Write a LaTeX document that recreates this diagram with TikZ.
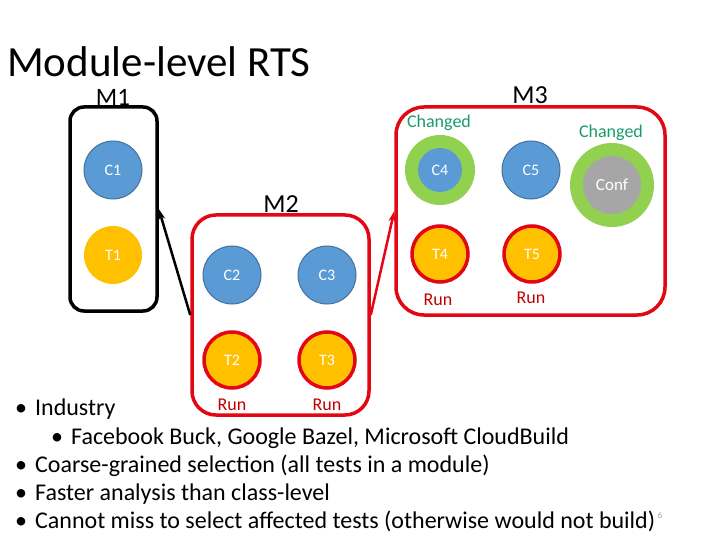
\documentclass[tikz,border=0pt]{standalone}
\usepackage{fontspec}
\setmainfont{Carlito}
\usetikzlibrary{arrows.meta}
\definecolor{cblue}{HTML}{5B9BD5}
\definecolor{cblueb}{HTML}{41719C}
\definecolor{cyel}{HTML}{FFC000}
\definecolor{cred}{HTML}{E30613}
\definecolor{crun}{HTML}{C00000}
\definecolor{cgreen}{HTML}{92D050}
\definecolor{cchg}{HTML}{1A9A6A}
\definecolor{cgray}{HTML}{A6A6A6}
\tikzset{
  modbox/.style={draw, line width=3.5pt, rounded corners=#1, inner sep=0pt},
  cls/.style={circle, fill=cblue, draw=cblueb, line width=1pt, minimum size=58pt, inner sep=0pt, text=white, font=\fontsize{16}{18}\selectfont},
  tst/.style={circle, fill=cyel, minimum size=58pt, inner sep=0pt, text=white, font=\fontsize{16}{18}\selectfont},
  runtst/.style={tst, draw=cred, line width=3.5pt, minimum size=56pt},
  ring/.style={circle, fill=cgreen, inner sep=0pt},
  modlabel/.style={inner sep=0pt, font=\fontsize{26}{28}\selectfont},
  runlabel/.style={text=crun, font=\fontsize{18}{20}\selectfont},
  chglabel/.style={text=cchg, font=\fontsize{18}{20}\selectfont},
  bul/.style={anchor=base west, inner sep=0pt, font=\fontsize{24}{26}\selectfont},
}
\begin{document}
\begin{tikzpicture}[x=1pt,y=-1pt]
\useasboundingbox (0,0) rectangle (720,540);
% title
\node[anchor=base west, inner sep=0pt, font=\fontsize{43}{46}\selectfont] (title) at (7,77) {Module-level RTS};
% module boxes
\node[modbox=14pt, draw=black, minimum width=87pt, minimum height=204pt] (m1) at (113.5,209) {};
\node[modbox=24pt, draw=cred, minimum width=177pt, minimum height=200pt] (m2) at (280.5,315) {};
\node[modbox=28pt, draw=cred, minimum width=269pt, minimum height=208pt] (m3) at (530.5,211) {};
\node[modlabel, font=\fontsize{25}{27}\selectfont] (m1l) at (113,97) {M1};
\node[modlabel] (m2l) at (281,204) {M2};
\node[modlabel] (m3l) at (530,95) {M3};
% M1
\node[cls] (c1) at (113,170) {C1};
\node[tst] (t1) at (113,255) {T1};
% M2
\node[cls] (c2) at (232,275) {C2};
\node[cls] (c3) at (327,275) {C3};
\node[runtst] (t2) at (232,360) {T2};
\node[runtst] (t3) at (327,360) {T3};
\node[runlabel] (r2) at (232,405) {Run};
\node[runlabel] (r3) at (327,405) {Run};
% M3
\node[ring, minimum size=70pt] (c4r) at (440,170) {};
\node[cls, draw=none, minimum size=44pt] (c4) at (440,170) {C4};
\node[cls] (c5) at (531,170) {C5};
\node[ring, minimum size=84pt] (confr) at (612,185) {};
\node[circle, fill=cgray, minimum size=58pt, inner sep=0pt, text=white, font=\fontsize{17}{19}\selectfont] (conf) at (612,185) {Conf};
\node[chglabel] (ch1) at (439,123) {Changed};
\node[chglabel] (ch2) at (611,133) {Changed};
\node[runtst] (t4) at (440,254) {T4};
\node[runtst] (t5) at (532,254) {T5};
\node[runlabel] (r4) at (438,300) {Run};
\node[runlabel] (r5) at (531,298) {Run};
% arrows
\draw[line width=2.5pt, -{Stealth[length=11pt,width=7pt]}] (m2.west) -- (m1.east);
\draw[line width=2.5pt, cred, -{Stealth[length=11pt,width=7pt]}] (m2.east) -- (m3.west);
% bullets
\node[bul] (b1) at (15,415) {•\hspace{8pt}Industry};
\node[bul] (b2) at (51,444) {•\hspace{8pt}Facebook Buck, Google Bazel, Microsoft CloudBuild};
\node[bul] (b3) at (15,472) {•\hspace{8pt}Coarse-grained selection (all tests in a module)};
\node[bul] (b4) at (15,500) {•\hspace{8pt}Faster analysis than class-level};
\node[bul] (b5) at (15,528) {•\hspace{8pt}Cannot miss to select affected tests (otherwise would not build)};
\node[anchor=base west, inner sep=0pt, text=cgray, font=\fontsize{9}{10}\selectfont] (pg) at (b5.base east) [yshift=10pt, xshift=2pt] {6};
\end{tikzpicture}
\end{document}
